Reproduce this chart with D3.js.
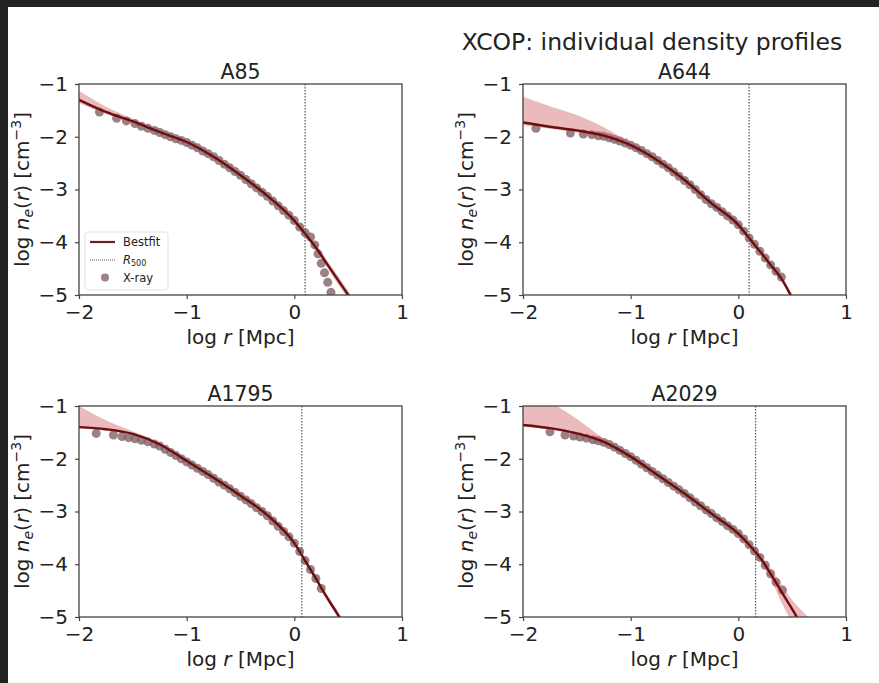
<!DOCTYPE html>
<meta charset="utf-8">
<script src="https://d3js.org/d3.v7.min.js"></script>
<style>
  body { margin: 0px; background: #fff; }
  text { font-family: "DejaVu Sans", sans-serif; fill: #222; }
  .tick text { font-size: 20px; fill: #222; }
  .tick line { stroke: #444; stroke-width: 1.2; }
  .domain { display: none; }
</style>
<div id="my_dataviz"></div>
<script>

// cluster names and R500 (log Mpc)
const clusters = ["A85", "A644", "A1795", "A2029"];
const r500 = [0.10, 0.10, 0.07, 0.16];

// common grid of log r for the best fit and its band
const gridX = [-2, -1.75, -1.5, -1.25, -1, -0.75, -0.5, -0.25, 0, 0.1, 0.2, 0.3, 0.4, 0.5, 0.6, 0.7];

// best fit, upper and lower band edges (log ne)
const fitA85  = [-1.30, -1.53, -1.71, -1.91, -2.10, -2.38, -2.73, -3.12, -3.59, -3.84, -4.10, -4.40, -4.70, -5.00, -5.32, -5.65];
const hiA85   = [-1.13, -1.43, -1.66, -1.88, -2.07, -2.35, -2.70, -3.09, -3.55, -3.79, -4.04, -4.33, -4.62, -4.92, -5.20, -5.50];
const loA85   = [-1.36, -1.57, -1.75, -1.94, -2.13, -2.41, -2.76, -3.15, -3.63, -3.89, -4.16, -4.47, -4.78, -5.08, -5.40, -5.75];

const fitA644 = [-1.73, -1.81, -1.88, -1.98, -2.16, -2.45, -2.82, -3.26, -3.67, -3.92, -4.17, -4.43, -4.69, -5.05, -5.40, -5.80];
const hiA644  = [-1.24, -1.42, -1.59, -1.82, -2.12, -2.42, -2.79, -3.23, -3.63, -3.88, -4.13, -4.39, -4.64, -4.99, -5.30, -5.70];
const loA644  = [-1.78, -1.85, -1.92, -2.01, -2.19, -2.48, -2.85, -3.29, -3.71, -3.96, -4.21, -4.47, -4.74, -5.11, -5.50, -5.90];

const fitA1795 = [-1.40, -1.44, -1.53, -1.73, -2.04, -2.36, -2.70, -3.07, -3.60, -3.93, -4.27, -4.62, -4.94, -5.30, -5.70, -6.10];
const hiA1795  = [-1.00, -1.27, -1.48, -1.70, -2.01, -2.33, -2.67, -3.04, -3.56, -3.89, -4.22, -4.56, -4.88, -5.20, -5.60, -6.00];
const loA1795  = [-1.42, -1.47, -1.56, -1.76, -2.07, -2.39, -2.73, -3.10, -3.64, -3.97, -4.32, -4.68, -5.00, -5.40, -5.80, -6.20];

const fitA2029 = [-1.36, -1.42, -1.52, -1.68, -1.96, -2.31, -2.66, -3.04, -3.42, -3.63, -3.87, -4.18, -4.52, -4.85, -5.20, -5.55];
const hiA2029  = [-0.60, -0.92, -1.24, -1.62, -1.93, -2.28, -2.63, -3.01, -3.38, -3.58, -3.80, -4.08, -4.38, -4.68, -4.90, -5.10];
const loA2029  = [-1.40, -1.45, -1.55, -1.71, -1.99, -2.34, -2.69, -3.07, -3.46, -3.68, -3.94, -4.28, -4.72, -5.12, -5.50, -5.90];

// X-ray points (log r, log ne)
const xrA85  = [-1.81, -1.65, -1.56, -1.48, -1.42, -1.36, -1.30, -1.25, -1.20, -1.15, -1.10, -1.05, -1.00, -0.95, -0.90, -0.85, -0.80, -0.75, -0.70, -0.65, -0.60, -0.55, -0.50, -0.45, -0.40, -0.35, -0.30, -0.25, -0.20, -0.15, -0.10, -0.05, 0.00, 0.05, 0.10, 0.15, 0.19, 0.22, 0.25, 0.28, 0.31, 0.34, 0.37];
const yrA85  = [-1.53, -1.65, -1.70, -1.75, -1.80, -1.84, -1.88, -1.92, -1.96, -2.00, -2.04, -2.07, -2.11, -2.16, -2.21, -2.27, -2.32, -2.38, -2.45, -2.52, -2.59, -2.66, -2.73, -2.81, -2.89, -2.97, -3.05, -3.13, -3.22, -3.31, -3.40, -3.49, -3.59, -3.71, -3.82, -3.90, -4.05, -4.22, -4.40, -4.58, -4.76, -4.95, -5.10];

const xrA644 = [-1.88, -1.56, -1.44, -1.36, -1.30, -1.25, -1.20, -1.15, -1.10, -1.05, -1.00, -0.95, -0.90, -0.85, -0.80, -0.75, -0.70, -0.65, -0.60, -0.55, -0.50, -0.45, -0.40, -0.35, -0.30, -0.25, -0.20, -0.15, -0.10, -0.05, 0.00, 0.05, 0.10, 0.15, 0.20, 0.25, 0.30, 0.35, 0.40];
const yrA644 = [-1.84, -1.93, -1.95, -1.96, -1.98, -1.99, -2.02, -2.05, -2.08, -2.12, -2.16, -2.21, -2.26, -2.32, -2.38, -2.45, -2.52, -2.59, -2.67, -2.75, -2.83, -2.91, -3.00, -3.10, -3.19, -3.27, -3.34, -3.42, -3.50, -3.58, -3.67, -3.79, -3.92, -4.04, -4.17, -4.30, -4.43, -4.55, -4.66];

const xrA1795 = [-1.84, -1.68, -1.60, -1.54, -1.48, -1.42, -1.36, -1.30, -1.25, -1.20, -1.15, -1.10, -1.05, -1.00, -0.95, -0.90, -0.85, -0.80, -0.75, -0.70, -0.65, -0.60, -0.55, -0.50, -0.45, -0.40, -0.35, -0.30, -0.25, -0.20, -0.15, -0.10, -0.05, 0.00, 0.05, 0.10, 0.15, 0.20, 0.25];
const yrA1795 = [-1.52, -1.55, -1.58, -1.60, -1.62, -1.65, -1.68, -1.72, -1.76, -1.82, -1.88, -1.94, -2.00, -2.06, -2.12, -2.18, -2.24, -2.30, -2.37, -2.44, -2.50, -2.57, -2.64, -2.71, -2.78, -2.85, -2.93, -3.00, -3.08, -3.18, -3.28, -3.38, -3.48, -3.60, -3.76, -3.93, -4.10, -4.27, -4.46];

const xrA2029 = [-1.75, -1.61, -1.53, -1.47, -1.41, -1.35, -1.30, -1.25, -1.20, -1.15, -1.10, -1.05, -1.00, -0.95, -0.90, -0.85, -0.80, -0.75, -0.70, -0.65, -0.60, -0.55, -0.50, -0.45, -0.40, -0.35, -0.30, -0.25, -0.20, -0.15, -0.10, -0.05, 0.00, 0.05, 0.10, 0.15, 0.20, 0.25, 0.30, 0.35, 0.41];
const yrA2029 = [-1.49, -1.55, -1.57, -1.59, -1.61, -1.64, -1.66, -1.69, -1.73, -1.78, -1.84, -1.90, -1.96, -2.03, -2.10, -2.17, -2.24, -2.31, -2.38, -2.45, -2.52, -2.59, -2.66, -2.74, -2.82, -2.89, -2.97, -3.04, -3.12, -3.19, -3.27, -3.34, -3.42, -3.52, -3.63, -3.75, -3.87, -4.02, -4.18, -4.34, -4.49];

// axis ticks
const xTicks = [-2, -1, 0, 1];
const yTicks = [-1, -2, -3, -4, -5];

const fits = [fitA85, fitA644, fitA1795, fitA2029];
const his = [hiA85, hiA644, hiA1795, hiA2029];
const los = [loA85, loA644, loA1795, loA2029];
const xrs = [xrA85, xrA644, xrA1795, xrA2029];
const yrs = [yrA85, yrA644, yrA1795, yrA2029];

const W = 879, H = 683;
const pw = 323, ph = 211;
const origins = [[79, 84], [523, 84], [79, 406], [523, 406]];

const svg = d3.select("#my_dataviz")
  .append("svg")
    .attr("width", W)
    .attr("height", H);

svg.append("rect").attr("width", W).attr("height", H).attr("fill", "#fff");
// dark screenshot edges
svg.append("rect").attr("x", 0).attr("y", 0).attr("width", 8).attr("height", H).attr("fill", "#222");
svg.append("rect").attr("x", 0).attr("y", 0).attr("width", W).attr("height", 7).attr("fill", "#222");

svg.append("text")
  .attr("x", 652).attr("y", 50)
  .style("text-anchor", "middle")
  .style("font-size", "23.5px")
  .text("XCOP: individual density profiles");

const minus = d => d < 0 ? "\u2212" + Math.abs(d) : String(d);

const x = d3.scaleLinear().domain([-2, 1]).range([0, pw]);
const y = d3.scaleLinear().domain([-5, -1]).range([ph, 0]);

clusters.forEach(function(name, i) {
  const g = svg.append("g")
    .attr("transform", "translate(" + origins[i][0] + "," + origins[i][1] + ")");

  g.append("clipPath").attr("id", "clip" + i)
    .append("rect").attr("width", pw).attr("height", ph);

  const plot = g.append("g").attr("clip-path", "url(#clip" + i + ")");

  const pts = xrs[i].map((v, j) => [v, yrs[i][j]]);
  plot.selectAll("circle")
    .data(pts)
    .enter()
    .append("circle")
      .attr("cx", d => x(d[0]))
      .attr("cy", d => y(d[1]))
      .attr("r", 4.5)
      .style("fill", "#806267")
      .style("opacity", 0.8);

  const band = gridX.map((v, j) => ({x: v, lo: los[i][j], hi: his[i][j], f: fits[i][j]}));

  plot.append("path")
    .datum(band)
    .attr("d", d3.area().curve(d3.curveMonotoneX)
      .x(d => x(d.x)).y0(d => y(d.lo)).y1(d => y(d.hi)))
    .style("fill", "#d0666b")
    .style("opacity", 0.45);

  plot.append("path")
    .datum(band)
    .attr("d", d3.line().curve(d3.curveMonotoneX)
      .x(d => x(d.x)).y(d => y(d.f)))
    .style("fill", "none")
    .style("stroke", "#6b0e10")
    .style("stroke-width", 2.4);

  // R500 dotted line
  g.append("line")
    .attr("x1", x(r500[i])).attr("x2", x(r500[i]))
    .attr("y1", 0).attr("y2", ph)
    .style("stroke", "#555")
    .style("stroke-width", 1.2)
    .style("stroke-dasharray", "1.5,1.5");

  g.append("g")
    .attr("transform", "translate(0," + ph + ")")
    .call(d3.axisBottom(x).tickValues(xTicks).tickSize(4).tickPadding(6).tickFormat(minus));

  g.append("g")
    .call(d3.axisLeft(y).tickValues(yTicks).tickSize(4).tickPadding(7).tickFormat(minus));

  g.append("rect")
    .attr("width", pw).attr("height", ph)
    .style("fill", "none")
    .style("stroke", "#444")
    .style("stroke-width", 1.3);

  g.append("text")
    .attr("x", pw / 2).attr("y", -5)
    .style("text-anchor", "middle")
    .style("font-size", "20.5px")
    .text(name);

  // x label
  const xl = g.append("text")
    .attr("x", pw / 2).attr("y", ph + 49)
    .style("text-anchor", "middle")
    .style("font-size", "20px");
  xl.append("tspan").text("log ");
  xl.append("tspan").style("font-style", "italic").text("r");
  xl.append("tspan").text(" [Mpc]");

  // y label
  const yl = g.append("text")
    .attr("transform", "translate(-50," + (ph / 2) + ") rotate(-90)")
    .style("text-anchor", "middle")
    .style("font-size", "20px");
  yl.append("tspan").text("log ");
  yl.append("tspan").style("font-style", "italic").text("n");
  yl.append("tspan").style("font-style", "italic").style("font-size", "14px").attr("dy", 4).text("e");
  yl.append("tspan").attr("dy", -4).text("(");
  yl.append("tspan").style("font-style", "italic").text("r");
  yl.append("tspan").text(") [cm");
  yl.append("tspan").style("font-size", "14px").attr("dy", -8).text("\u22123");
  yl.append("tspan").attr("dy", 8).text("]");

  // legend in first panel only
  if (i === 0) {
    const lg = g.append("g").attr("transform", "translate(6,148)");
    lg.append("rect")
      .attr("width", 83).attr("height", 58).attr("rx", 3)
      .style("fill", "#fff").style("opacity", 0.85)
      .style("stroke", "#ddd");
    lg.append("line").attr("x1", 5).attr("x2", 30).attr("y1", 10).attr("y2", 10)
      .style("stroke", "#6b1e22").style("stroke-width", 2.2);
    lg.append("line").attr("x1", 5).attr("x2", 30).attr("y1", 28).attr("y2", 28)
      .style("stroke", "#555").style("stroke-width", 1).style("stroke-dasharray", "1,1");
    lg.append("circle").attr("cx", 20).attr("cy", 45.5).attr("r", 4)
      .style("fill", "#8c6c71").style("opacity", 0.85);
    lg.append("text").attr("x", 38).attr("y", 14).style("font-size", "11.5px").text("Bestfit");
    const rt = lg.append("text").attr("x", 38).attr("y", 32).style("font-size", "11.5px");
    rt.append("tspan").style("font-style", "italic").text("R");
    rt.append("tspan").style("font-size", "8px").attr("dy", 2).text("500");
    lg.append("text").attr("x", 38).attr("y", 50).style("font-size", "11.5px").text("X-ray");
  }
});
</script>
